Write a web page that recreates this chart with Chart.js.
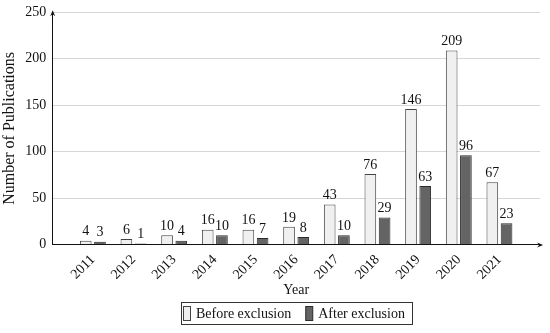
<!DOCTYPE html>
<html>
<head>
<meta charset="utf-8">
<script src="https://cdn.jsdelivr.net/npm/chart.js@4/dist/chart.umd.min.js"></script>
<style>
html, body { margin: 0; padding: 0; background: #fff; }
#wrap { width: 550px; height: 333px; }
</style>
</head>
<body>
<div id="wrap"><canvas id="pubChart"></canvas></div>
<script>
// data
const years = ["2011","2012","2013","2014","2015","2016","2017","2018","2019","2020","2021"];
const beforeExclusion = [4, 6, 10, 16, 16, 19, 43, 76, 146, 209, 67];
const afterExclusion = [3, 1, 4, 10, 7, 8, 10, 29, 63, 96, 23];
const yMax = 250;
const yStep = 50;

// one empty slot on each side, like the original axis
const labels = [""].concat(years, [""]);
const pad = arr => [null].concat(arr, [null]);

const FONT = "'Liberation Serif', 'DejaVu Serif', serif";
Chart.defaults.font.family = FONT;
Chart.defaults.font.size = 14;
Chart.defaults.color = "#111";

// value written on top of each bar
const barValues = {
  id: "barValues",
  afterDatasetsDraw(chart) {
    const c = chart.ctx;
    c.save();
    c.font = "14px " + FONT;
    c.fillStyle = "#111";
    c.textAlign = "center";
    c.textBaseline = "bottom";
    chart.data.datasets.forEach((ds, i) => {
      chart.getDatasetMeta(i).data.forEach((bar, j) => {
        const v = ds.data[j];
        if (v === null || v === undefined) return;
        c.fillText(String(v), bar.x, bar.y - 2);
      });
    });
    c.restore();
  }
};

// arrow heads on the axes
const axisArrows = {
  id: "axisArrows",
  afterDraw(chart) {
    const c = chart.ctx;
    const a = chart.chartArea;
    c.save();
    c.fillStyle = "#111";
    c.beginPath();
    c.moveTo(a.left + 0.5, a.top - 2);
    c.lineTo(a.left - 2, a.top + 4);
    c.lineTo(a.left + 0.5, a.top + 2);
    c.lineTo(a.left + 3, a.top + 4);
    c.closePath();
    c.fill();
    c.beginPath();
    c.moveTo(a.right + 3, a.bottom + 0.5);
    c.lineTo(a.right - 3, a.bottom - 2);
    c.lineTo(a.right - 1, a.bottom + 0.5);
    c.lineTo(a.right - 3, a.bottom + 3);
    c.closePath();
    c.fill();
    c.restore();
  }
};

// framed legend under the axis title, centred on the plot
const boxedLegend = {
  id: "boxedLegend",
  afterDraw(chart) {
    const c = chart.ctx;
    const a = chart.chartArea;
    const sets = chart.data.datasets;
    c.save();
    c.font = "14px " + FONT;
    const sw = 7, sh = 14, gapText = 6, gapItem = 14, padL = 2, padR = 7;
    let w = padL + padR;
    sets.forEach((ds, i) => {
      w += sw + gapText + c.measureText(ds.label).width;
      if (i < sets.length - 1) w += gapItem;
    });
    const top = 302, h = 22;
    let x = Math.round((a.left + a.right) / 2 - w / 2);
    c.strokeStyle = "#333";
    c.lineWidth = 1;
    c.strokeRect(x + 0.5, top + 0.5, Math.round(w), h);
    x += padL;
    c.textBaseline = "middle";
    c.textAlign = "left";
    sets.forEach(ds => {
      c.fillStyle = ds.backgroundColor;
      c.fillRect(x + 0.5, top + 4.5, sw, sh);
      c.strokeStyle = ds.borderColor;
      c.strokeRect(x + 0.5, top + 4.5, sw, sh);
      x += sw + gapText;
      c.fillStyle = "#111";
      c.fillText(ds.label, x, top + h / 2 + 1.5);
      x += c.measureText(ds.label).width + gapItem;
    });
    c.restore();
  }
};

new Chart(document.getElementById("pubChart"), {
  type: "bar",
  data: {
    labels: labels,
    datasets: [
      {
        label: "Before exclusion",
        data: pad(beforeExclusion),
        backgroundColor: "#f0f0f0",
        borderColor: "#444",
        borderWidth: 1
      },
      {
        label: "After exclusion",
        data: pad(afterExclusion),
        backgroundColor: "#646464",
        borderColor: "#2a2a2a",
        borderWidth: 1
      }
    ]
  },
  options: {
    responsive: true,
    maintainAspectRatio: false,
    animation: false,
    layout: { padding: { top: 0, right: 9, left: 0, bottom: 34 } },
    datasets: {
      bar: { categoryPercentage: 0.7, barPercentage: 0.82 }
    },
    scales: {
      x: {
        offset: false,
        grid: { display: false },
        border: { display: true, color: "#111", width: 1 },
        ticks: { maxRotation: 45, minRotation: 45, padding: 0, autoSkip: false, color: "#111", font: { lineHeight: 1 } },
        title: { display: true, text: "Year", color: "#111", padding: { top: 0, bottom: 0 } }
      },
      y: {
        min: 0,
        max: yMax,
        grid: { color: "#d6d6d6", drawTicks: false },
        border: { display: true, color: "#111", width: 1 },
        ticks: { stepSize: yStep, padding: 6, color: "#111", font: { lineHeight: 0.9 } },
        title: { display: true, text: "Number of Publications", color: "#111", font: { size: 16 }, padding: 0 }
      }
    },
    plugins: {
      tooltip: { enabled: false },
      legend: { display: false }
    }
  },
  plugins: [barValues, axisArrows, boxedLegend]
});
</script>
</body>
</html>
